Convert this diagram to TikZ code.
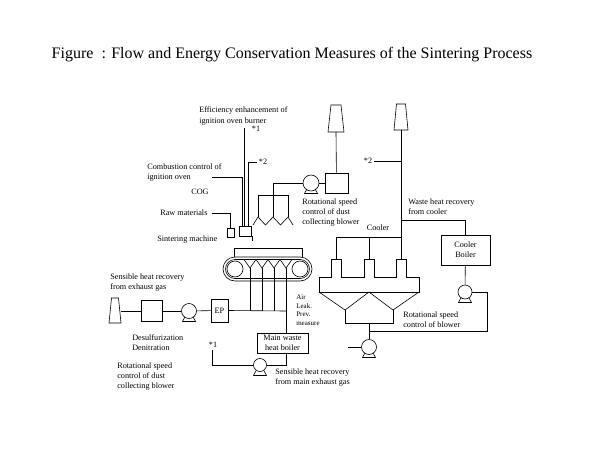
\documentclass[tikz,border=0pt]{standalone}
\usepackage{fontspec}
\setmainfont{Liberation Serif}
\usetikzlibrary{calc,positioning}
\tikzset{lbl/.style={inner sep=0pt, align=left, font=\fontsize{8.2}{10}\selectfont}}
\tikzset{eqbox/.style={draw, inner sep=0pt, align=center, font=\fontsize{8.2}{10}\selectfont}}
\tikzset{pmp/.style={draw, circle, inner sep=0pt, minimum size=14pt}}
\begin{document}
\begin{tikzpicture}[x=1pt, y=-1pt, line width=0.6pt]
                        \useasboundingbox (0, 0) rectangle (600, 450);
                        \node[inner sep=0pt, font=\fontsize{16}{19}\selectfont] (ttl) at (292, 55) {Figure\ \ : Flow and Energy Conservation Measures of the Sintering Process};

                        % text round the plant
                        \node[lbl, anchor=west, font=\fontsize{8.2}{11.5}\selectfont] (effl) at (199, 116) {Efficiency enhancement of\\ignition oven burner};
                        \node[lbl] (st1) at (256, 129) {*1};
                        \node[lbl, anchor=west] (cmbl) at (147, 172.5) {Combustion control of\\ignition oven};
                        \node[lbl] (st2) at (263, 162) {*2};
                        \node[lbl] (cogl) at (200, 192) {COG};
                        \node[lbl, anchor=west] (rawl) at (160, 213) {Raw materials};
                        \node[lbl, anchor=west] (sntl) at (157, 240) {Sintering machine};
                        \node[lbl, anchor=west] (bl1) at (302, 213) {Rotational speed\\control of dust\\collecting blower};
                        \node[lbl] (st2b) at (368, 161) {*2};
                        \node[lbl, anchor=west] (whrl) at (408, 207) {Waste heat recovery\\from cooler};
                        \node[lbl] (cool) at (378, 228) {Cooler};
                        \node[lbl, anchor=west] (bl2) at (403, 319.5) {Rotational speed\\control of blower};
                        \node[lbl, anchor=west] (shl1) at (110, 283) {Sensible heat recovery\\from exhaust gas};
                        \node[lbl, anchor=west] (dsl) at (132, 343) {Desulfurization\\Denitration};
                        \node[lbl, anchor=west] (bl3) at (117, 377) {Rotational speed\\control of dust\\collecting blower};
                        \node[lbl, anchor=west, font=\fontsize{7}{8.5}\selectfont] (alp) at (296, 310) {Air\\Leak.\\Prev.\\measure};
                        \node[lbl] (st1b) at (213, 345) {*1};
                        \node[lbl, anchor=west] (shl2) at (275, 378) {Sensible heat recovery\\from main exhaust gas};

                        \node[eqbox, minimum width=12pt, minimum height=10pt] (ign) at (245.5, 231) {};
                        \node[eqbox, minimum width=7pt, minimum height=9pt] (rawb) at (230.5, 232.5) {};
                        \node[pmp, minimum size=16pt] (p1) at (311, 183) {};
                        \node[eqbox, minimum width=23pt, minimum height=20pt] (dcb) at (336.5, 183) {};
                        \node[eqbox, minimum width=49pt, minimum height=30pt] (cb) at (465.5, 250) {Cooler\\Boiler};
                        \node[pmp] (p4) at (465, 292) {};
                        \node[pmp, minimum size=15pt] (p3) at (369, 347) {};
                        \node[eqbox, minimum width=17pt, minimum height=23pt] (ep) at (219.5, 310.5) {EP};
                        \node[eqbox, minimum width=51pt, minimum height=20pt] (mwb) at (282.5, 343) {Main waste\\heat boiler};
                        \node[pmp, minimum size=13pt] (p2) at (260, 365) {};
                        \node[eqbox, minimum width=21pt, minimum height=21pt] (dsb) at (152, 311) {};
                        \node[pmp, minimum size=15pt] (p5) at (189, 311) {};

                        \coordinate (stk1) at (336, 132);
                        \coordinate (stk2) at (401, 130);
                        \coordinate (cin) at (401, 259);
                        \coordinate (s3r) at (120.5, 311);
                        \coordinate (hd) at (273, 195);
                        \coordinate (e1) at (244, 128);
                        \coordinate (cmb) at (212, 177);
                        \coordinate (brn) at (401, 220);
                        \coordinate (cbot) at (369, 323);
                        \coordinate (p3in) at (348, 347);
                        \coordinate (rt) at (487, 331);
                        \coordinate (wb) at (286, 268);
                        \coordinate (gl) at (286, 311);
                        \coordinate (s1b) at (212, 350);

                        % stacks
                        \foreach \x/\yt/\yb/\wt/\wb in {336/105/132/5/8, 401/104/130/4.5/7, 115/298/323/3.5/6}
                            \draw (\x-\wb, \yb) -- (\x-\wt, \yt) -- (\x+\wt, \yt) -- (\x+\wb, \yb) -- cycle;

                        % hood and hoppers over the ignition side
                        \draw (258, 195) -- (288, 195);
                        \foreach \x in {258, 273, 288} \draw (\x, 195) -- (\x, 217);
                        \draw (253, 225) -- (258, 217) -- (265.5, 225) -- (273, 217) -- (280.5, 225) -- (288, 217) -- (293, 225);

                        % sintering machine
                        \draw (234, 257) -- (234, 248) -- (302, 248) -- (302, 257);
                        \draw[rounded corners=12pt] (223, 257) rectangle (312, 281);
                        \draw[rounded corners=9.5pt] (225.5, 259.5) rectangle (309.5, 278.5);
                        \draw (235, 269) circle[radius=8pt];
                        \draw (300, 269) circle[radius=8pt];
                        \draw (244, 259.5) -- (250, 268) -- (256, 259.5) -- (262, 268) -- (268, 259.5) -- (274, 268) -- (280, 259.5) -- (286, 268) -- (292, 259.5);
                        \foreach \x in {250, 262, 274} \draw (\x, 268) -- (\x, 311);

                        % cooler
                        \draw (336, 259) -- (336, 237) -- (401, 237);
                        \draw (369, 237) -- (369, 259);
                        \draw (319, 277) -- (331, 277) -- (331, 259) -- (341, 259) -- (341, 277) -- (364, 277) -- (364, 259) -- (374, 259) -- (374, 277)
                            -- (396, 277) -- (396, 259) -- (406, 259) -- (406, 277) -- (419, 277) -- (419, 292) -- (319, 292) -- cycle;
                        \draw (319, 292) -- (345, 310) -- (369, 292) -- (393, 310) -- (419, 292);
                        \draw (345, 310) -- (345, 323) -- (393, 323) -- (393, 310);

                        % pump feet
                        \foreach \p in {p1, p2, p3, p4, p5}
                            \draw ($(\p) + (-4, 5.8)$) -- ++(-2.5, 4.7) -- ++(13, 0) -- ++(-2.5, -4.7);

                        \draw ([xshift=4pt]rawl.east) -| (rawb.north);
                        \draw (cmb) -| ([xshift=-3.5pt]ign.north);
                        \draw (e1) -- (e1 |- ign.north);
                        \draw ([xshift=-2pt]st2.west) -| ([xshift=2.5pt]ign.north);
                        \draw (ign.south east) -- ++(0, 5);
                        \draw (p1.west) -| (hd);
                        \draw (p1) -- (dcb);
                        \draw (dcb) -- (stk1);
                        \draw (stk2) -- (cin);
                        \draw ([xshift=2pt]st2b.east) -- (st2b.east -| stk2);
                        \draw (brn) -| (cb.north);
                        \draw (cb) -- (p4);
                        \draw (p4.east) -| (rt) -- (rt -| cbot);
                        \draw (cbot) -- (p3);
                        \draw (p3in) -- (p3.west);
                        \draw (s3r) -- (dsb);
                        \draw (dsb) -- (p5);
                        \draw (p5) -- (ep);
                        \draw (ep.east) -- (gl);
                        \draw (wb) -- (wb |- mwb.north);
                        \draw (wb |- mwb.south) |- (p2.east);
                        \draw (p2.west) -| (s1b);
\end{tikzpicture}
\end{document}
